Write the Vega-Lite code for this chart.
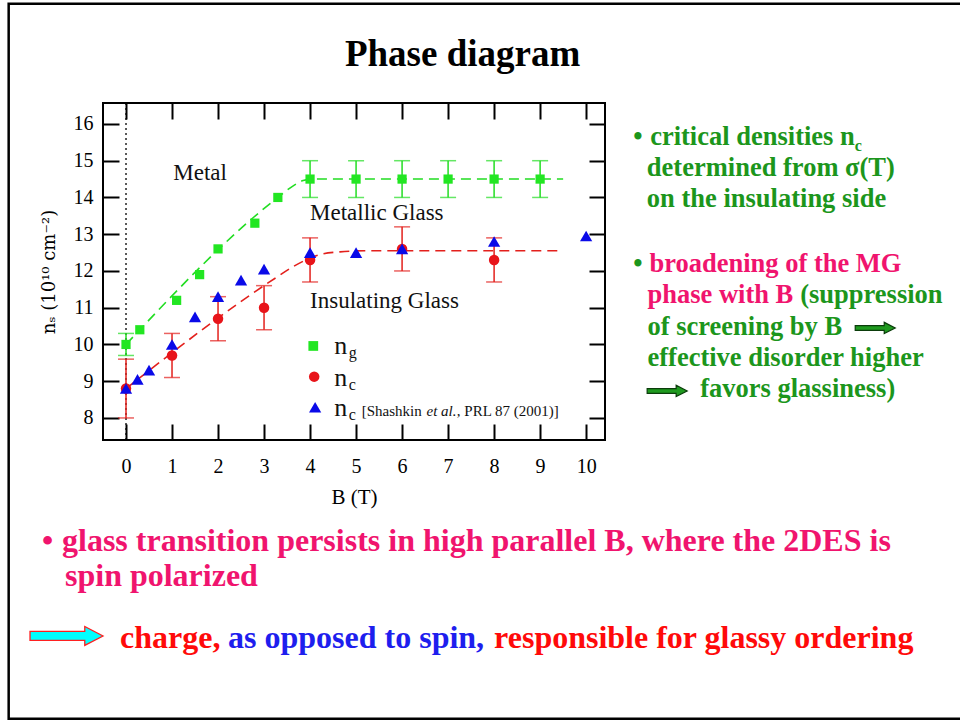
{
  "$schema": "https://vega.github.io/schema/vega-lite/v6.json",
  "width": 502,
  "height": 337,
  "autosize": "none",
  "padding": {"left": 103, "top": 103, "right": 355, "bottom": 281},
  "background": "white",
  "config": {
    "view": {"stroke": "black", "strokeWidth": 2},
    "font": "Liberation Serif"
  },
  "datasets": {
    "slideFrame": [{"x": -2.55, "x2": 18.5, "y": 19.273, "y2": -0.182}],
    "zeroField": [{"x": 0, "y": 7.4, "y2": 16.57}],
    "ng": [
      {"x": 0, "y": 10.0}, {"x": 0.3, "y": 10.4}, {"x": 1.1, "y": 11.2}, {"x": 1.6, "y": 11.9},
      {"x": 2.0, "y": 12.6}, {"x": 2.8, "y": 13.3}, {"x": 3.3, "y": 14.0}, {"x": 4, "y": 14.5},
      {"x": 5, "y": 14.5}, {"x": 6, "y": 14.5}, {"x": 7, "y": 14.5}, {"x": 8, "y": 14.5}, {"x": 9, "y": 14.5}
    ],
    "ngErr": [
      {"x": 0, "y": 9.7, "y2": 10.3}, {"x": 4, "y": 14.0, "y2": 15.0}, {"x": 5, "y": 14.0, "y2": 15.0},
      {"x": 6, "y": 14.0, "y2": 15.0}, {"x": 7, "y": 14.0, "y2": 15.0}, {"x": 8, "y": 14.0, "y2": 15.0},
      {"x": 9, "y": 14.0, "y2": 15.0}
    ],
    "ngFit": [
      {"x": 0, "y": 10.0}, {"x": 3.3, "y": 14.0}, {"x": 3.65, "y": 14.33}, {"x": 3.85, "y": 14.46},
      {"x": 4.05, "y": 14.5}, {"x": 9.5, "y": 14.5}
    ],
    "nc": [
      {"x": 0, "y": 8.8}, {"x": 1, "y": 9.7}, {"x": 2, "y": 10.7}, {"x": 3, "y": 11.0},
      {"x": 4, "y": 12.3}, {"x": 6, "y": 12.6}, {"x": 8, "y": 12.3}
    ],
    "ncErr": [
      {"x": 0, "y": 8.0, "y2": 9.6}, {"x": 1, "y": 9.1, "y2": 10.3}, {"x": 2, "y": 10.1, "y2": 11.3},
      {"x": 3, "y": 10.4, "y2": 11.6}, {"x": 4, "y": 11.7, "y2": 12.9}, {"x": 6, "y": 12.0, "y2": 13.2},
      {"x": 8, "y": 11.7, "y2": 12.9}
    ],
    "ncFit": [
      {"x": 0, "y": 8.8}, {"x": 3.3, "y": 11.85}, {"x": 3.65, "y": 12.13}, {"x": 4.2, "y": 12.44},
      {"x": 4.65, "y": 12.52}, {"x": 5.2, "y": 12.55}, {"x": 9.5, "y": 12.55}
    ],
    "shashkin": [
      {"x": 0, "y": 8.8}, {"x": 0.25, "y": 9.05}, {"x": 0.5, "y": 9.3}, {"x": 1, "y": 10.0},
      {"x": 1.5, "y": 10.75}, {"x": 2, "y": 11.3}, {"x": 2.5, "y": 11.75}, {"x": 3, "y": 12.05},
      {"x": 4, "y": 12.5}, {"x": 5, "y": 12.5}, {"x": 6, "y": 12.6}, {"x": 8, "y": 12.8}, {"x": 10, "y": 12.95}
    ],
    "regions": [
      {"x": 1.028, "y": 14.476, "text": "Metal"},
      {"x": 4.0, "y": 13.388, "text": "Metallic Glass"},
      {"x": 4.0, "y": 10.985, "text": "Insulating Glass"}
    ],
    "keyNg": [{"x": 4.07, "y": 9.959}],
    "keyNc": [{"x": 4.09, "y": 9.124}],
    "keySh": [{"x": 4.11, "y": 8.291}],
    "keySymbol": [
      {"x": 4.528, "y": 9.741, "text": "n"},
      {"x": 4.528, "y": 8.871, "text": "n"},
      {"x": 4.528, "y": 8.054, "text": "n"}
    ],
    "keySub": [
      {"x": 4.84, "y": 9.633, "text": "g"},
      {"x": 4.84, "y": 8.762, "text": "c"},
      {"x": 4.84, "y": 7.946, "text": "c"}
    ],
    "keyCite": [
      {"x": 5.124, "y": 8.054, "text": "[Shashkin"},
      {"x": 7.19, "y": 8.054, "text": ", PRL 87 (2001)]"}
    ],
    "keyCiteItalic": [{"x": 6.53, "y": 8.054, "text": "et al."}],
    "heading": [{"x": 7.315, "y": 17.578, "text": "Phase diagram"}],
    "notesGreen": [
      {"x": 11.022, "y": 15.429, "text": "•"},
      {"x": 11.391, "y": 15.429, "text": "critical densities n"},
      {"x": 11.32, "y": 14.585, "text": "determined from σ(T)"},
      {"x": 11.32, "y": 13.741, "text": "on the insulating side"},
      {"x": 11.022, "y": 11.981, "text": "•"},
      {"x": 14.652, "y": 11.121, "text": "(suppression"},
      {"x": 11.333, "y": 10.267, "text": "of screening by B"},
      {"x": 11.333, "y": 9.415, "text": "effective disorder higher"},
      {"x": 12.478, "y": 8.558, "text": "favors glassiness)"}
    ],
    "notesGreenSub": [{"x": 15.84, "y": 15.273, "text": "c"}],
    "notesPink": [
      {"x": 11.376, "y": 11.981, "text": "broadening of the MG"},
      {"x": 11.333, "y": 11.121, "text": "phase with B"}
    ],
    "notesArrows": [{"x": 16.283, "y": 10.449}, {"x": 11.761, "y": 8.735}],
    "footPink": [
      {"x": -1.826, "y": 4.381, "text": "•"},
      {"x": -1.391, "y": 4.381, "text": "glass transition persists in high parallel B, where the 2DES is"},
      {"x": -1.326, "y": 3.429, "text": "spin polarized"}
    ],
    "footRed": [
      {"x": -0.13, "y": 1.741, "text": "charge,"},
      {"x": 8.0, "y": 1.741, "text": "responsible for glassy ordering"}
    ],
    "footBlue": [{"x": 2.217, "y": 1.741, "text": "as opposed to spin,"}],
    "footArrow": [{"x": -1.293, "y": 2.068}]
  },
  "layer": [
    {
      "encoding": {
        "x": {
          "field": "x",
          "type": "quantitative",
          "scale": {"domain": [-0.5, 10.41], "nice": false, "zero": false},
          "axis": {
            "values": [0, 1, 2, 3, 4, 5, 6, 7, 8, 9, 10],
            "title": "B (T)",
            "grid": false,
            "domain": false,
            "tickSize": -16,
            "tickWidth": 2,
            "tickColor": "black",
            "labelFont": "Liberation Serif",
            "labelFontSize": 20,
            "labelColor": "black",
            "labelPadding": 32,
            "labelFlush": false,
            "labelOverlap": false,
            "titleFont": "Liberation Serif",
            "titleFontSize": 21,
            "titleFontWeight": "normal",
            "titleColor": "black",
            "titlePadding": 10
          }
        },
        "y": {
          "field": "y",
          "type": "quantitative",
          "scale": {"domain": [7.4, 16.57], "nice": false, "zero": false},
          "axis": {
            "values": [8, 9, 10, 11, 12, 13, 14, 15, 16],
            "title": "nₛ (10¹⁰ cm⁻²)",
            "grid": false,
            "domain": false,
            "tickSize": -16,
            "tickWidth": 2,
            "tickColor": "black",
            "labelFont": "Liberation Serif",
            "labelFontSize": 20,
            "labelColor": "black",
            "labelPadding": 26,
            "labelFlush": false,
            "labelOverlap": false,
            "titleFont": "DejaVu Serif",
            "titleFontSize": 18,
            "titleFontWeight": "normal",
            "titleColor": "black",
            "titlePadding": 15
          }
        }
      },
      "layer": [
        {
          "data": {"name": "slideFrame"},
          "mark": {"type": "rect", "fillOpacity": 0, "stroke": "black", "strokeWidth": 2.5},
          "encoding": {"x2": {"field": "x2"}, "y2": {"field": "y2"}}
        },
        {
          "data": {"name": "zeroField"},
          "mark": {"type": "rule", "strokeDash": [2, 3], "strokeWidth": 1.3, "color": "black"},
          "encoding": {"y2": {"field": "y2"}}
        },
        {
          "data": {"name": "ngFit"},
          "mark": {"type": "line", "interpolate": "monotone", "strokeDash": [10, 6], "strokeWidth": 1.6, "color": "#22dd22"},
          "encoding": {}
        },
        {
          "data": {"name": "ncFit"},
          "mark": {"type": "line", "interpolate": "monotone", "strokeDash": [10, 6], "strokeWidth": 1.6, "color": "#e3201c"},
          "encoding": {}
        },
        {
          "data": {"name": "ngErr"},
          "mark": {"type": "errorbar", "color": "#22dd22", "thickness": 1.5, "ticks": {"size": 16}},
          "encoding": {"y2": {"field": "y2"}}
        },
        {
          "data": {"name": "ncErr"},
          "mark": {"type": "errorbar", "color": "#e3201c", "thickness": 1.5, "ticks": {"size": 16}},
          "encoding": {"y2": {"field": "y2"}}
        },
        {
          "data": {"name": "ng"},
          "mark": {"type": "point", "shape": "square", "filled": true, "size": 85, "color": "#22e622", "opacity": 1}
        },
        {
          "data": {"name": "nc"},
          "mark": {"type": "point", "shape": "circle", "filled": true, "size": 110, "color": "#e8141a", "opacity": 1}
        },
        {
          "data": {"name": "shashkin"},
          "mark": {"type": "point", "shape": "triangle-up", "filled": true, "size": 150, "color": "#0a0ae8", "opacity": 1}
        },
        {
          "data": {"name": "regions"},
          "mark": {"type": "text", "fontSize": 23, "align": "left", "baseline": "alphabetic", "color": "#111111"},
          "encoding": {"text": {"field": "text"}}
        },
        {
          "data": {"name": "keyNg"},
          "mark": {"type": "point", "shape": "square", "filled": true, "size": 95, "color": "#22e622", "opacity": 1}
        },
        {
          "data": {"name": "keyNc"},
          "mark": {"type": "point", "shape": "circle", "filled": true, "size": 110, "color": "#e8141a", "opacity": 1}
        },
        {
          "data": {"name": "keySh"},
          "mark": {"type": "point", "shape": "triangle-up", "filled": true, "size": 150, "color": "#0a0ae8", "opacity": 1}
        },
        {
          "data": {"name": "keySymbol"},
          "mark": {"type": "text", "fontSize": 26, "align": "left", "baseline": "alphabetic", "color": "#111111"},
          "encoding": {"text": {"field": "text"}}
        },
        {
          "data": {"name": "keySub"},
          "mark": {"type": "text", "fontSize": 16, "align": "left", "baseline": "alphabetic", "color": "#111111"},
          "encoding": {"text": {"field": "text"}}
        },
        {
          "data": {"name": "keyCite"},
          "mark": {"type": "text", "fontSize": 15, "align": "left", "baseline": "alphabetic", "color": "#111111"},
          "encoding": {"text": {"field": "text"}}
        },
        {
          "data": {"name": "keyCiteItalic"},
          "mark": {"type": "text", "fontSize": 15, "fontStyle": "italic", "align": "left", "baseline": "alphabetic", "color": "#111111"},
          "encoding": {"text": {"field": "text"}}
        },
        {
          "data": {"name": "heading"},
          "mark": {"type": "text", "fontSize": 37, "fontWeight": "bold", "align": "center", "baseline": "alphabetic", "color": "black"},
          "encoding": {"text": {"field": "text"}}
        },
        {
          "data": {"name": "notesGreen"},
          "mark": {"type": "text", "fontSize": 26.5, "fontWeight": "bold", "align": "left", "baseline": "alphabetic", "color": "#1c961c"},
          "encoding": {"text": {"field": "text"}}
        },
        {
          "data": {"name": "notesGreenSub"},
          "mark": {"type": "text", "fontSize": 16, "fontWeight": "bold", "align": "left", "baseline": "alphabetic", "color": "#1c961c"},
          "encoding": {"text": {"field": "text"}}
        },
        {
          "data": {"name": "notesPink"},
          "mark": {"type": "text", "fontSize": 26.5, "fontWeight": "bold", "align": "left", "baseline": "alphabetic", "color": "#f0146e"},
          "encoding": {"text": {"field": "text"}}
        },
        {
          "data": {"name": "notesArrows"},
          "mark": {"type": "point", "shape": "M-1,-0.12L0.45,-0.12L0.45,-0.28L1,0L0.45,0.28L0.45,0.12L-1,0.12Z", "filled": true, "size": 1600, "fill": "#1f9a1f", "stroke": "#0b3d0b", "strokeWidth": 1.2, "opacity": 1}
        },
        {
          "data": {"name": "footPink"},
          "mark": {"type": "text", "fontSize": 32, "fontWeight": "bold", "align": "left", "baseline": "alphabetic", "color": "#f0146e"},
          "encoding": {"text": {"field": "text"}}
        },
        {
          "data": {"name": "footRed"},
          "mark": {"type": "text", "fontSize": 32, "fontWeight": "bold", "align": "left", "baseline": "alphabetic", "color": "#ff0a0a"},
          "encoding": {"text": {"field": "text"}}
        },
        {
          "data": {"name": "footBlue"},
          "mark": {"type": "text", "fontSize": 32, "fontWeight": "bold", "align": "left", "baseline": "alphabetic", "color": "#1e1eee"},
          "encoding": {"text": {"field": "text"}}
        },
        {
          "data": {"name": "footArrow"},
          "mark": {"type": "point", "shape": "M-1,-0.123L0.5,-0.123L0.5,-0.26L1,0L0.5,0.26L0.5,0.123L-1,0.123Z", "filled": true, "size": 5329, "fill": "#00ffff", "stroke": "#ff2020", "strokeWidth": 1.3, "opacity": 1}
        }
      ]
    },
    {
      "data": {"values": [{"x": 0, "y": 8}]},
      "mark": {"type": "point", "opacity": 0},
      "encoding": {
        "x": {
          "field": "x",
          "type": "quantitative",
          "axis": {
            "orient": "top",
            "values": [0, 1, 2, 3, 4, 5, 6, 7, 8, 9, 10],
            "title": null,
            "labels": false,
            "grid": false,
            "domain": false,
            "tickSize": -16,
            "tickWidth": 2,
            "tickColor": "black"
          }
        },
        "y": {
          "field": "y",
          "type": "quantitative",
          "axis": {
            "orient": "right",
            "values": [8, 9, 10, 11, 12, 13, 14, 15, 16],
            "title": null,
            "labels": false,
            "grid": false,
            "domain": false,
            "tickSize": -16,
            "tickWidth": 2,
            "tickColor": "black"
          }
        }
      }
    }
  ],
  "resolve": {"axis": {"x": "independent", "y": "independent"}}
}
